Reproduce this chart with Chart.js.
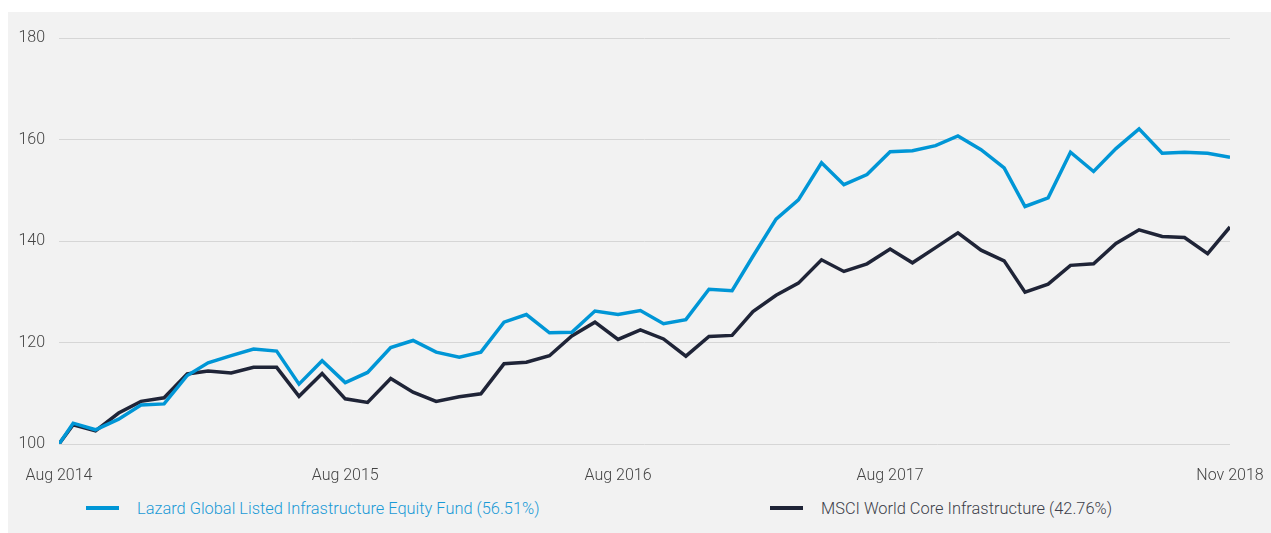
<!DOCTYPE html>
<html>
<head>
<meta charset="utf-8">
<script src="https://cdn.jsdelivr.net/npm/chart.js@4.4.1/dist/chart.umd.min.js"></script>
<style>
  html, body { margin: 0; background: #fff; }
  #panel { position: absolute; left: 8px; top: 12px; width: 1263px; height: 521px; background: #f2f2f2; }
  #wrap { position: absolute; left: 0; top: 0; width: 1263px; height: 478px; }
  .leg { position: absolute; top: 486px; height: 20px; display: flex; align-items: center;
         font: 300 16.4px Roboto, sans-serif; white-space: nowrap; }
  .leg i { display: inline-block; width: 33px; height: 4px; margin-right: 18px; }
</style>
</head>
<body>
<div id="panel">
  <div id="wrap"><canvas id="perf"></canvas></div>
  <div id="legend"></div>
</div>
<script>
// inception + month ends
const DATES = [
  '2014-08-12', '2014-08-31', '2014-09-30', '2014-10-31', '2014-11-30', '2014-12-31',
  '2015-01-31', '2015-02-28', '2015-03-31', '2015-04-30', '2015-05-31', '2015-06-30',
  '2015-07-31', '2015-08-31', '2015-09-30', '2015-10-31', '2015-11-30', '2015-12-31',
  '2016-01-31', '2016-02-29', '2016-03-31', '2016-04-30', '2016-05-31', '2016-06-30',
  '2016-07-31', '2016-08-31', '2016-09-30', '2016-10-31', '2016-11-30', '2016-12-31',
  '2017-01-31', '2017-02-28', '2017-03-31', '2017-04-30', '2017-05-31', '2017-06-30',
  '2017-07-31', '2017-08-31', '2017-09-30', '2017-10-31', '2017-11-30', '2017-12-31',
  '2018-01-31', '2018-02-28', '2018-03-31', '2018-04-30', '2018-05-31', '2018-06-30',
  '2018-07-31', '2018-08-31', '2018-09-30', '2018-10-31', '2018-11-30',
];

const FUND = [
  100, 104.1, 102.8, 104.9, 107.7, 107.9, 113.5, 116.0, 117.4, 118.7,
  118.3, 111.8, 116.4, 112.1, 114.1, 119.0, 120.4, 118.1, 117.1, 118.1,
  124.0, 125.5, 121.9, 122.0, 126.2, 125.5, 126.3, 123.7, 124.5, 130.5,
  130.2, 137.0, 144.3, 148.1, 155.4, 151.1, 153.1, 157.6, 157.8, 158.8,
  160.7, 158.0, 154.4, 146.8, 148.5, 157.5, 153.7, 158.2, 162.1, 157.3,
  157.5, 157.3, 156.51,
];

const INDEX = [
  100, 103.8, 102.6, 106.1, 108.4, 109.1, 113.8, 114.4, 114.0, 115.1,
  115.1, 109.4, 113.9, 108.9, 108.2, 112.9, 110.2, 108.4, 109.3, 109.9,
  115.8, 116.1, 117.4, 121.3, 124.0, 120.6, 122.5, 120.7, 117.3, 121.2,
  121.4, 126.1, 129.3, 131.7, 136.3, 134.0, 135.5, 138.4, 135.7, 138.7,
  141.6, 138.2, 136.1, 129.9, 131.5, 135.2, 135.5, 139.5, 142.2, 140.9,
  140.7, 137.5, 142.76,
];

const TICK_DATES = ['2014-08-12', '2015-08-31', '2016-08-31', '2017-08-31', '2018-11-30'];
const TICK_LABELS = ['Aug 2014', 'Aug 2015', 'Aug 2016', 'Aug 2017', 'Nov 2018'];

const SERIES = [
  { label: 'Lazard Global Listed Infrastructure Equity Fund (56.51%)', data: FUND, color: '#0096d6', text: '#1a9ad6' },
  { label: 'MSCI World Core Infrastructure (42.76%)', data: INDEX, color: '#1f2437', text: '#3d3f4a' },
];

const T0 = Date.parse(DATES[0]);
const day = d => (Date.parse(d) - T0) / 864e5;

const FONT = { family: 'Roboto', size: 16, weight: 300 };

new Chart(document.getElementById('perf'), {
  type: 'line',
  data: {
    datasets: SERIES.map(s => ({
      label: s.label,
      data: s.data.map((v, i) => ({ x: day(DATES[i]), y: v })),
      borderColor: s.color,
      borderWidth: 3.5,
      pointRadius: 0,
      tension: 0,
      fill: false,
    })),
  },
  options: {
    responsive: true,
    maintainAspectRatio: false,
    animation: false,
    layout: { padding: { top: 26, right: 41, bottom: 0, left: 0 } },
    plugins: { legend: { display: false }, tooltip: { enabled: false } },
    scales: {
      x: {
        type: 'linear',
        min: day(DATES[0]),
        max: day(DATES[DATES.length - 1]),
        grid: { display: false },
        border: { display: false },
        afterBuildTicks: ax => { ax.ticks = TICK_DATES.map(d => ({ value: day(d) })); },
        afterFit: ax => { ax.height = 46; ax.paddingLeft = 0; ax.paddingRight = 0; },
        ticks: {
          autoSkip: false, maxRotation: 0, padding: 14,
          color: '#444', font: FONT,
          callback: (v, i) => TICK_LABELS[i],
        },
      },
      y: {
        min: 100, max: 180,
        grid: { color: '#d6d6d6', lineWidth: 1, drawTicks: false },
        border: { display: false },
        afterFit: ax => { ax.width = 51; ax.paddingTop = 0; ax.paddingBottom = 0; },
        ticks: { stepSize: 20, padding: 14, color: '#444', font: FONT },
      },
    },
  },
});

// legend
const LEG_LEFT = [78, 762];
const legend = document.getElementById('legend');
SERIES.forEach((s, i) => {
  const el = document.createElement('div');
  el.className = 'leg';
  el.style.left = LEG_LEFT[i] + 'px';
  el.style.color = s.text;
  el.innerHTML = '<i style="background:' + s.color + '"></i><span>' + s.label + '</span>';
  legend.appendChild(el);
});
</script>
</body>
</html>
